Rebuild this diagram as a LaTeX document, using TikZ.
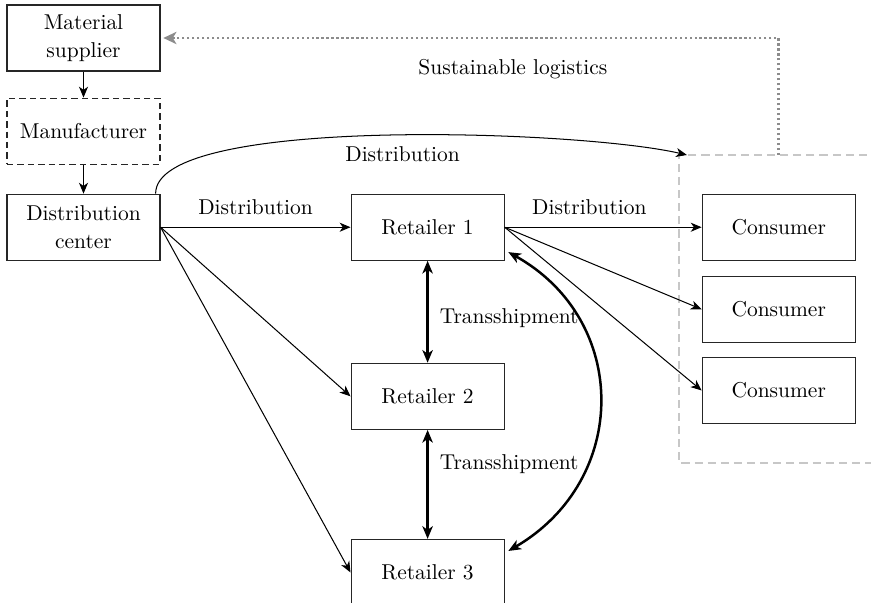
\documentclass[tikz,border=0pt]{standalone}
\usepackage{xcolor}
\usepackage{tikz}
\usetikzlibrary{arrows.meta, positioning, calc}

\begin{document}
\begin{tikzpicture}[
    x=0.4423pt, y=-0.4423pt,
    every node/.style={font=\fontsize{9.5}{12.2}\selectfont},
    box/.style={rectangle, draw=black!85, line width=0.5pt, minimum width=67.7pt, minimum height=29.2pt, align=center},
    flow/.style={-{Stealth[length=4.8pt, width=4pt, inset=1.4pt]}, line width=0.45pt},
    trans/.style={{Stealth[length=5.6pt, width=4.6pt, inset=1.6pt]}-{Stealth[length=5.6pt, width=4.6pt, inset=1.6pt]}, line width=1.1pt},
    market/.style={draw=black!22, line width=0.75pt, dash pattern=on 3.6pt off 2.2pt},
    green/.style={draw=black!45, line width=1.2pt, dash pattern=on 1pt off 1.2pt}
]
\useasboundingbox (0,0) rectangle (871,603);

\node[box] (ms) at (83.5,38) {Material\\supplier};
\node[box, dash pattern=on 2.8pt off 1.8pt, below=11.5pt of ms] (mf) {Manufacturer};
\node[box, below=12.8pt of mf] (dc) {Distribution\\center};

\node[box, right=84pt of dc] (r1) {Retailer 1};
\node[box, below=45.1pt of r1] (r2) {Retailer 2};
\node[box, below=48.2pt of r2] (r3) {Retailer 3};

\node[box, right=87.1pt of r1] (c1) {Consumer};
\node[box, below=6.6pt of c1] (c2) {Consumer};
\node[box, below=6.2pt of c2] (c3) {Consumer};

% consumer market (open to the right)
\coordinate (mtl) at (679,155);
\coordinate (mbl) at (679,463);
\draw[market] (mtl -| 880,0) -- (mtl) -- (mbl) -- (mbl -| 880,0);

% sustainable logistics back to the supplier
\coordinate (sl) at (c1.center |- mtl);
\draw[green, -{Stealth[length=5.8pt, width=5.4pt, inset=1.6pt]}, shorten >=1.2pt]
    (sl) -- (sl |- ms.east) -- (ms.east)
    node[pos=0.43, below=5.5pt, text=black] (sltext) {Sustainable logistics};

\draw[flow] (ms) -- (mf);
\draw[flow] (mf) -- (dc);

\draw[flow] (dc.east) -- (r1.west) node[midway, above=2pt] (d1) {Distribution};
\draw[flow] (dc.east) -- (r2.west);
\draw[flow] (dc.east) -- (r3.west);
\draw[flow] ([xshift=-2.2pt]dc.north east) .. controls (155,115) and (580,130) .. ([xshift=3.5pt]mtl)
    node[pos=0.53, below=1.5pt] (d0) {Distribution};

\draw[flow] (r1.east) -- (c1.west) node[pos=0.43, above=2pt] (d2) {Distribution};
\draw[flow] (r1.east) -- (c2.west);
\draw[flow] (r1.east) -- (c3.west);

\draw[trans] (r1) -- (r2) node[pos=0.56, right=1.5pt] (t1) {Transshipment};
\draw[trans] (r2) -- (r3) node[pos=0.31, right=1.5pt] (t2) {Transshipment};
\draw[trans] ([xshift=1.6pt, yshift=-11pt]r1.east) .. controls (630,320) and (630,480) .. ([xshift=1.6pt, yshift=9.5pt]r3.east);
\end{tikzpicture}
\end{document}
